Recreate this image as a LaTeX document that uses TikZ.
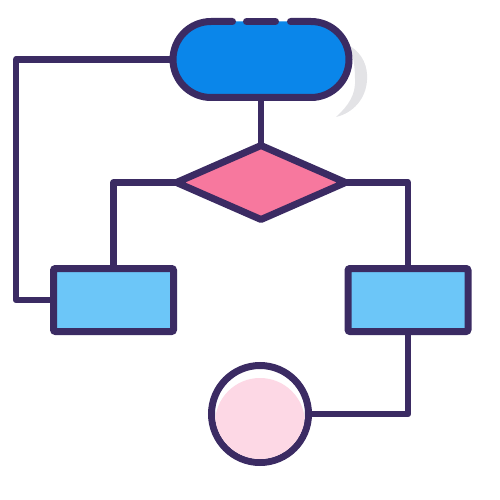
\documentclass[tikz,border=0pt]{standalone}
\usetikzlibrary{shapes.geometric,backgrounds}
\definecolor{ink}{HTML}{3B2B63}
\definecolor{blueA}{HTML}{0A86EA}
\definecolor{pinkA}{HTML}{F7789E}
\definecolor{blueB}{HTML}{6CC6F8}
\definecolor{pinkB}{HTML}{FDD8E5}
\definecolor{shadowgray}{HTML}{E3E3E6}
\tikzset{
  outl/.style={draw=ink,line width=7pt},
  conn/.style={draw=ink,line width=6.5pt,line join=round,line cap=round},
  stadium/.style={fill=blueA,rectangle,rounded corners=38pt,minimum width=175pt,minimum height=76pt,inner sep=0pt,outer sep=0pt},
  decision/.style={outl,fill=pinkA,diamond,minimum width=169pt,minimum height=74pt,inner sep=0pt,outer sep=0pt,line join=round},
  procbox/.style={outl,fill=blueB,rectangle,rounded corners=2pt,minimum width=120pt,minimum height=63pt,inner sep=0pt,outer sep=0pt},
  endcirc/.style={outl,fill=white,circle,minimum size=97pt,inner sep=0pt,outer sep=0pt}
}
\begin{document}
\begin{tikzpicture}[x=1pt,y=-1pt]
\useasboundingbox (0,0) rectangle (500,500);
% shadow crescent
\fill[shadowgray] (350,46) .. controls (363,54) and (368,67) .. (367,80)
  .. controls (366,99) and (353,113) .. (336,117)
  .. controls (348,106) and (356,95) .. (355,79)
  .. controls (355,66) and (353,55) .. (350,46) -- cycle;
% nodes
\node[stadium] (start) at (261,59.5) {};
\draw[ink,line width=7pt,line cap=round,line join=round]
  (232.5,21.5) -- (211,21.5) arc[start angle=270,end angle=90,radius=38] -- (311,97.5)
  arc[start angle=90,end angle=-90,radius=38] -- (290.5,21.5);
\draw[ink,line width=7pt,line cap=round] (246.5,21.5) -- (275.5,21.5);
\node[decision] (dec) at (261,182.5) {};
\node[procbox] (lbox) at (113.5,300) {};
\node[procbox] (rbox) at (408,300) {};
\node[endcirc] (end) at (260,414) {};
\begin{scope}
  \clip (end.center) circle[radius=45];
  \fill[pinkB] ([yshift=-9pt]end.center) circle[radius=45];
\end{scope}
\coordinate (fb) at (16,300);
\begin{scope}[on background layer]
  \draw[conn] (start.south) -- (dec.north);
  \draw[conn] (dec.west) -| (lbox.north);
  \draw[conn] (dec.east) -| (rbox.north);
  \draw[conn] (lbox.west) -- (fb) |- (start.west);
  \draw[conn] (rbox.south) |- (end.east);
\end{scope}
\end{tikzpicture}
\end{document}
